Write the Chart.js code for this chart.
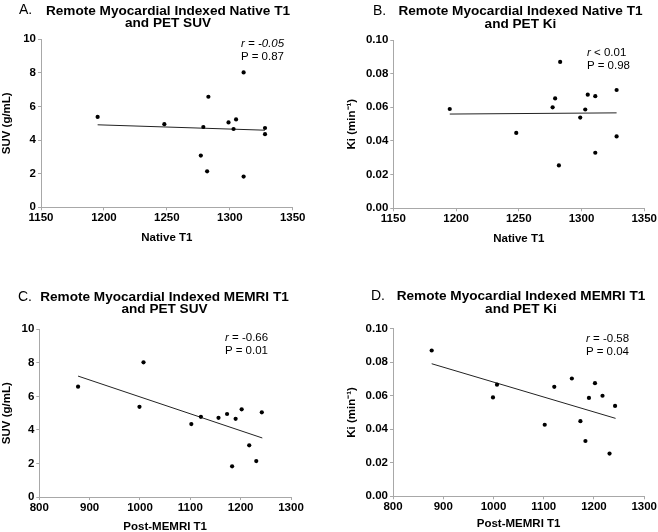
<!DOCTYPE html>
<html>
<head>
<meta charset="utf-8">
<script src="https://cdn.jsdelivr.net/npm/chart.js@4.4.1/dist/chart.umd.min.js"></script>
<style>
  html, body { margin: 0; padding: 0; background: #fff; }
  #page { position: relative; width: 658px; height: 532px; font-family: Arial, "Liberation Sans", sans-serif; color: #000; }
  canvas { position: absolute; }
  .letter { position: absolute; font-size: 14px; line-height: 11.5px; white-space: nowrap; }
  .title { position: absolute; width: 300px; text-align: center; font-size: 13.6px; font-weight: bold; line-height: 12.5px; white-space: nowrap; }
  .note { position: absolute; font-size: 11.5px; line-height: 13px; white-space: nowrap; }
</style>
</head>
<body>
<div id="page">
  <canvas id="chart-a" width="329" height="266" style="left:0;top:0"></canvas>
  <canvas id="chart-b" width="329" height="266" style="left:329px;top:0"></canvas>
  <canvas id="chart-c" width="329" height="266" style="left:0;top:266px"></canvas>
  <canvas id="chart-d" width="329" height="266" style="left:329px;top:266px"></canvas>

  <div class="letter" style="left:19px;top:4.4px">A.</div>
  <div class="title" style="left:18px;top:4.7px">Remote Myocardial Indexed Native T1<br>and PET SUV</div>
  <div class="note" style="left:241px;top:36.8px"><i>r = -0.05</i><br>P = 0.87</div>

  <div class="letter" style="left:373px;top:4.8px">B.</div>
  <div class="title" style="left:370.5px;top:5px">Remote Myocardial Indexed Native T1<br>and PET Ki</div>
  <div class="note" style="left:587px;top:45.5px"><i>r</i> &lt; 0.01<br>P = 0.98</div>

  <div class="letter" style="left:18px;top:290.6px">C.</div>
  <div class="title" style="left:14.5px;top:290.5px">Remote Myocardial Indexed MEMRI T1<br>and PET SUV</div>
  <div class="note" style="left:225px;top:330.8px"><i>r</i> = -0.66<br>P = 0.01</div>

  <div class="letter" style="left:371px;top:290.2px">D.</div>
  <div class="title" style="left:371px;top:290px">Remote Myocardial Indexed MEMRI T1<br>and PET Ki</div>
  <div class="note" style="left:586px;top:332.2px"><i>r</i> = -0.58<br>P = 0.04</div>
</div>

<script>
// one entry per subject, same order in every array
const nativeT1 = [1195, 1311, 1283, 1311, 1328, 1328, 1279, 1248, 1303, 1305, 1277, 1282, 1299];
const memriT1 = [999, 1007, 877, 1183, 1102, 1156, 1121, 1173, 1190, 1202, 1217, 1231, 1242];
const suv = [5.38, 8.03, 6.58, 1.83, 4.35, 4.72, 4.78, 4.95, 4.66, 5.23, 3.08, 2.14, 5.05];
const ki = [0.059, 0.0666, 0.087, 0.033, 0.0427, 0.0703, 0.0653, 0.0448, 0.0587, 0.0675, 0.060, 0.0255, 0.0539];

// regression line end points
const fitNativeX = [1195, 1328];
const fitSuvA = [4.91, 4.59];
const fitKiB = [0.0560, 0.0567];
const fitMemriX = [877, 1243];
const fitSuvC = [7.21, 3.52];
const fitKiD = [0.0791, 0.0465];

const axisGray = "#a8a8a8";
const tickFont = { family: "Arial, 'Liberation Sans', sans-serif", size: 11.5, weight: "bold" };
const titleFont = { family: "Arial, 'Liberation Sans', sans-serif", size: 11.5, weight: "bold" };

function pairs(xs, ys) {
  return xs.map((x, i) => ({ x, y: ys[i] }));
}

function scatterPanel(id, box, xs, ys, fitX, fitY, xAxis, yAxis) {
  const xh = box.xTitleY + 6.9 - box.bottom;
  return new Chart(document.getElementById(id).getContext("2d"), {
    type: "scatter",
    data: {
      datasets: [
        { data: pairs(xs, ys), pointRadius: 2.1, pointBackgroundColor: "#000", pointBorderWidth: 0 },
        { data: pairs(fitX, fitY), showLine: true, pointRadius: 0, borderColor: "#222", borderWidth: 1 }
      ]
    },
    options: {
      responsive: false,
      animation: false,
      devicePixelRatio: 1,
      events: [],
      layout: { padding: { left: 0, top: box.top, right: 329 - box.right, bottom: 266 - box.bottom - xh } },
      plugins: { legend: { display: false }, tooltip: { enabled: false } },
      scales: {
        x: {
          type: "linear", min: xAxis.min, max: xAxis.max,
          ticks: { stepSize: xAxis.step, color: "#000", font: tickFont, padding: 1, maxRotation: 0, callback: v => String(v) },
          grid: { drawOnChartArea: false, tickLength: 3, color: axisGray },
          border: { color: axisGray },
          title: { display: true, text: xAxis.title, color: "#000", font: titleFont, padding: 0 },
          afterFit: s => { s.height = xh; }
        },
        y: {
          type: "linear", min: yAxis.min, max: yAxis.max,
          ticks: { stepSize: yAxis.step, color: "#000", font: tickFont, padding: 2, callback: yAxis.format },
          grid: { drawOnChartArea: false, tickLength: 3, color: axisGray },
          border: { color: axisGray },
          title: { display: true, text: yAxis.title, color: "#000", font: titleFont, padding: { top: box.yTitleX - 6.9, bottom: 0 } },
          afterFit: s => { s.width = box.left; }
        }
      }
    }
  });
}

const nativeAxis = { min: 1150, max: 1350, step: 50, title: "Native T1" };
const memriAxis = { min: 800, max: 1300, step: 100, title: "Post-MEMRI T1" };
const suvAxis = { min: 0, max: 10, step: 2, title: "SUV (g/mL)", format: v => String(v) };
const kiAxis = { min: 0, max: 0.1, step: 0.02, title: "Ki (min\u207B\u00B9)", format: v => Number(v).toFixed(2) };

scatterPanel("chart-a", { left: 41, right: 292.7, top: 39.3, bottom: 207.3, xTitleY: 238, yTitleX: 7 },
  nativeT1, suv, fitNativeX, fitSuvA, nativeAxis, suvAxis);
scatterPanel("chart-b", { left: 64.3, right: 316.3, top: 40, bottom: 208.3, xTitleY: 239, yTitleX: 23 },
  nativeT1, ki, fitNativeX, fitKiB, nativeAxis, kiAxis);
scatterPanel("chart-c", { left: 39.3, right: 291, top: 63.3, bottom: 231, xTitleY: 261, yTitleX: 6.5 },
  memriT1, suv, fitMemriX, fitSuvC, memriAxis, suvAxis);
scatterPanel("chart-d", { left: 64, right: 316.3, top: 62.7, bottom: 230.3, xTitleY: 258.3, yTitleX: 23 },
  memriT1, ki, fitMemriX, fitKiD, memriAxis, kiAxis);
</script>
</body>
</html>
